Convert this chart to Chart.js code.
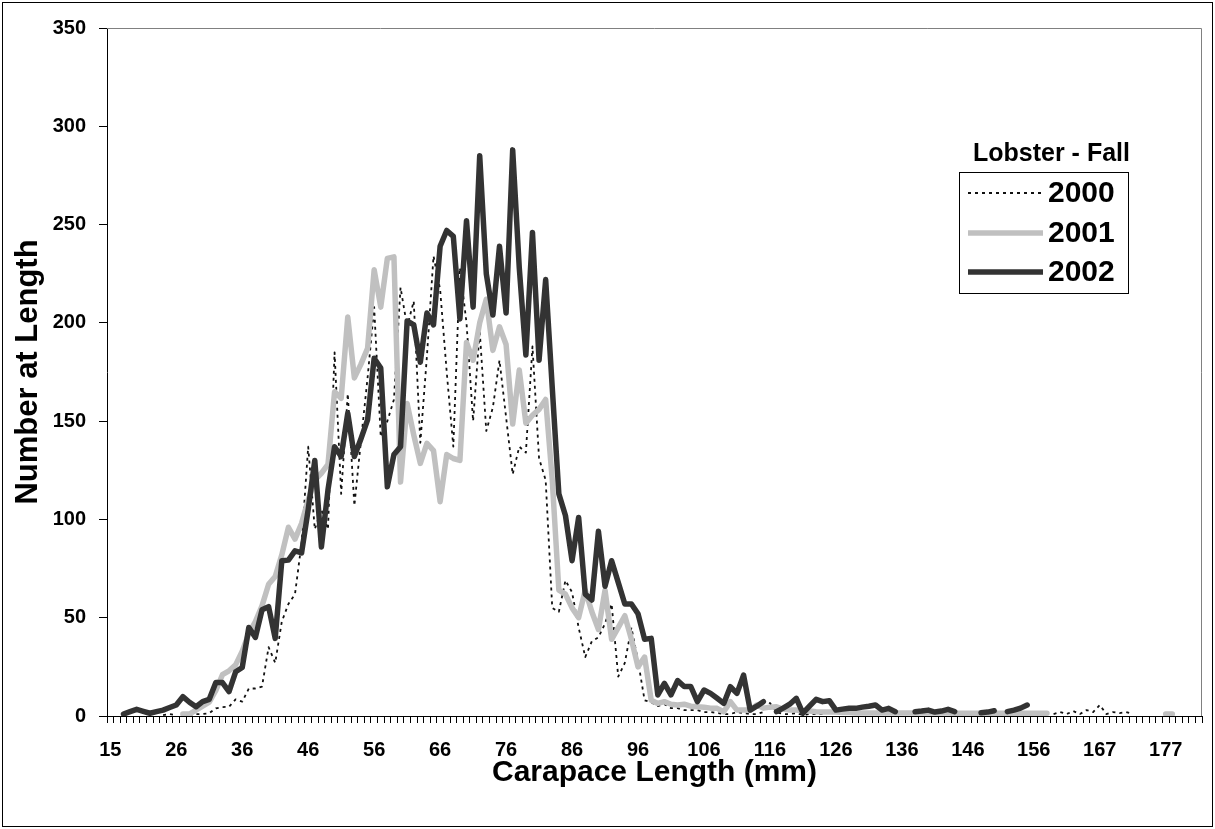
<!DOCTYPE html>
<html lang="en">
<head>
<meta charset="UTF-8">
<title>Lobster - Fall</title>
<script src="https://cdn.jsdelivr.net/npm/chart.js@4.4.0/dist/chart.umd.min.js"></script>
<style>
    html, body { margin: 0; padding: 0; background: #fff; }
    #wrap { width: 1215px; height: 829px; }
</style>
</head>
<body>
<div id="wrap"><canvas id="lengthChart" width="1215" height="829"></canvas></div>
<script>
    // Carapace length classes (mm); 16 and 164 have no row
    const lengths = [
        15, 17, 18, 19, 20, 21, 22, 23, 24, 25,
        26, 27, 28, 29, 30, 31, 32, 33, 34, 35,
        36, 37, 38, 39, 40, 41, 42, 43, 44, 45,
        46, 47, 48, 49, 50, 51, 52, 53, 54, 55,
        56, 57, 58, 59, 60, 61, 62, 63, 64, 65,
        66, 67, 68, 69, 70, 71, 72, 73, 74, 75,
        76, 77, 78, 79, 80, 81, 82, 83, 84, 85,
        86, 87, 88, 89, 90, 91, 92, 93, 94, 95,
        96, 97, 98, 99, 100, 101, 102, 103, 104, 105,
        106, 107, 108, 109, 110, 111, 112, 113, 114, 115,
        116, 117, 118, 119, 120, 121, 122, 123, 124, 125,
        126, 127, 128, 129, 130, 131, 132, 133, 134, 135,
        136, 137, 138, 139, 140, 141, 142, 143, 144, 145,
        146, 147, 148, 149, 150, 151, 152, 153, 154, 155,
        156, 157, 158, 159, 160, 161, 162, 163, 165, 166,
        167, 168, 169, 170, 171, 172, 173, 174, 175, 176,
        177, 178, 179, 180, 181, 182
    ];

    const fall2000 = [
        null, null, null, null, null, null, null, null, 0.5, 1,
        0.5, null, 0.5, 1, 1, 1.4, 3.9, 4.5, 4.7, 8.5,
        7.3, 14, 14, 15, 35, 27, 48, 57, 62, 88,
        137, 95, 105, 95, 185, 113, 164, 107, 140, 172,
        208, 142, 150, 161, 218, 198, 211, 139, 183, 234,
        217, 175, 137, 228, 200, 150, 196, 145, 157, 181,
        152, 123, 137, 134, 188, 131, 120, 55, 53, 69,
        63, 45, 30, 38, 40, 47, 57, 20, 27, 45,
        28, 8, 7, 5, 6, 4, 4, 3, 3, 3,
        2, 2, 1.5, 1, 1, 2, 1.5, 1, 1, 2,
        6.6, 2, 1, 1, 1.5, 0.5, 1, 1, 1, null,
        null, 1, 1, null, 1, 1, null, null, 1, 2,
        1.5, null, 1, 1, null, null, 1, 1, null, null,
        1, 1, null, null, 1, 1, null, null, 1, 1,
        null, null, null, 1, 2, 1, 2.5, 1, 3, 2,
        5.6, 1, 2, 1.5, 2, 1, null, null, null, null,
        null, null, null, null, null, null
    ];

    const fall2001 = [
        null, null, null, null, null, null, null, null, null, null,
        null, 1, 1, 3, 5, 7, 13, 21, 23, 26,
        33, 42, 48, 56, 67, 71, 82, 96, 90, 98,
        110, 120, 123.5, 128, 165, 161.6, 203, 172, 179, 187,
        227, 208, 232.8, 233.6, 119, 159, 143, 128.5, 138.7, 135,
        109, 133, 131, 130, 190, 181, 200, 212, 186, 198,
        189, 148.5, 176, 149, 153, 156, 161, 120, 64, 62,
        55, 50, 64, 53, 44, 64, 39, 45, 51, 39,
        25, 30, 8, 6.4, 7.3, 6, 5.6, 6, 5, 4.7,
        4.5, 4, 3.9, 2.2, 7.3, 3, 3, 3, 5.6, 4,
        4.5, 4.7, 3.5, 3, 3, 2.5, 2.5, 2.2, 2, 2,
        2, 1.8, 1.8, 1.5, 1.5, 1.5, 1.5, 1.5, 1.5, 1.5,
        1.5, 1.5, 1.5, 1.5, 1.5, 1.5, 1.5, 1.5, 1.4, 1.4,
        1.4, 1.4, 1.4, 1.4, 1.4, 1.4, 1.4, 1.4, 1.4, 1.4,
        1.4, 1.4, 1.4, null, null, null, null, null, null, null,
        null, null, null, null, null, null, null, null, null, null,
        1, 1, null, null, null, null
    ];

    const fall2002 = [
        null, null, 1, 2.2, 3.4, 2.4, 1.4, 2.2, 3, 4.3,
        5.6, 9.8, 7, 4.7, 7.3, 8.5, 17, 17, 12.4, 22.5,
        24.7, 45, 40, 54, 55.6, 39.5, 79, 79.3, 84, 83,
        105, 130, 86, 115, 137, 132, 154, 132, 141, 150.6,
        182, 177, 116.6, 133, 137, 201, 199, 180, 205, 199,
        239, 247, 244, 202, 252, 208, 285, 225, 204, 239,
        205, 288, 228, 183.6, 246, 181, 222, 167, 113, 102,
        79, 101, 62, 59, 94, 66, 79, 68, 57, 57,
        52, 39, 39.5, 10.7, 16.6, 10.7, 18, 15, 15, 7.3,
        13.2, 11.5, 9, 6.4, 14.9, 11.5, 20.8, 3, 5, 7.3,
        null, 2.2, 4, 6, 9, 1.4, 5, 8.5, 7.3, 7.8,
        3, 3.5, 3.9, 3.9, 4.5, 5, 5.6, 3, 3.9, 2.2,
        null, null, 2.2, 2.5, 3, 2, 2.5, 3.4, 2.2, null,
        null, null, 1.7, 2, 2.7, null, 2.2, 3, 4, 5.6,
        null, null, null, null, null, null, null, null, null, null,
        null, null, null, null, null, null, null, null, null, null,
        null, null, null, null, null, null
    ];

    const yTicks = [0, 50, 100, 150, 200, 250, 300, 350];

    const FONT = "'Liberation Sans', Arial, sans-serif";

    // frame, plot outline, title and the boxed legend
    const decorations = {
        id: 'decorations',
        afterDraw(chart) {
            const ctx = chart.ctx;
            const area = chart.chartArea;
            ctx.save();

            ctx.strokeStyle = '#808080';
            ctx.lineWidth = 1;
            ctx.beginPath();
            ctx.moveTo(area.left, area.top + 0.5);
            ctx.lineTo(area.right - 0.5, area.top + 0.5);
            ctx.lineTo(area.right - 0.5, area.bottom);
            ctx.stroke();

            ctx.strokeStyle = '#000';
            ctx.strokeRect(2.5, 2.5, chart.width - 5, chart.height - 5);

            ctx.fillStyle = '#000';
            ctx.textBaseline = 'middle';
            ctx.textAlign = 'left';
            ctx.font = 'bold 25px ' + FONT;
            ctx.fillText('Lobster - Fall', 973, 154);

            ctx.strokeStyle = '#000';
            ctx.lineWidth = 1;
            ctx.strokeRect(959.5, 172.5, 169, 121);

            const rows = [193, 233, 272];
            chart.data.datasets.forEach((ds, i) => {
                const y = rows[i];
                ctx.save();
                ctx.strokeStyle = ds.borderColor;
                ctx.lineWidth = ds.borderWidth;
                ctx.setLineDash(ds.borderDash || []);
                ctx.beginPath();
                ctx.moveTo(968, y);
                ctx.lineTo(1043, y);
                ctx.stroke();
                ctx.restore();
                ctx.fillStyle = '#000';
                ctx.font = 'bold 30px ' + FONT;
                ctx.fillText(ds.label, 1048, y + 1);
            });
            ctx.restore();
        }
    };

    const lineStyle = {
        pointRadius: 0,
        pointHoverRadius: 0,
        tension: 0,
        spanGaps: false,
        borderJoinStyle: 'round',
        borderCapStyle: 'round',
        fill: false
    };

    new Chart(document.getElementById('lengthChart'), {
        type: 'line',
        data: {
            labels: lengths,
            datasets: [
                Object.assign({
                    label: '2000',
                    data: fall2000,
                    borderColor: '#111111',
                    borderWidth: 1.8,
                    borderDash: [3, 4],
                    order: 3
                }, lineStyle, { borderCapStyle: 'butt' }),
                Object.assign({
                    label: '2001',
                    data: fall2001,
                    borderColor: '#c0c0c0',
                    borderWidth: 5.5,
                    order: 2
                }, lineStyle),
                Object.assign({
                    label: '2002',
                    data: fall2002,
                    borderColor: '#333333',
                    borderWidth: 5.5,
                    order: 1
                }, lineStyle)
            ]
        },
        options: {
            responsive: false,
            animation: false,
            devicePixelRatio: 1,
            layout: { padding: { top: 28, right: 13, left: 0, bottom: 0 } },
            plugins: {
                legend: { display: false },
                title: { display: false },
                tooltip: { enabled: false }
            },
            scales: {
                x: {
                    type: 'category',
                    offset: true,
                    grid: {
                        offset: true,
                        drawOnChartArea: false,
                        drawTicks: true,
                        tickLength: 7,
                        color: '#000'
                    },
                    border: { color: '#000', width: 1 },
                    ticks: {
                        autoSkip: false,
                        maxRotation: 0,
                        minRotation: 0,
                        padding: 15,
                        color: '#000',
                        font: { family: FONT, weight: 'bold', size: 20 },
                        callback: (v, i) => (i % 10 === 0 ? String(lengths[i]) : '')
                    },
                    title: {
                        display: true,
                        text: 'Carapace Length (mm)',
                        color: '#000',
                        font: { family: FONT, weight: 'bold', size: 30 },
                        padding: { top: 0, bottom: 38 }
                    },
                    afterFit: (scale) => { scale.height = 829 - 716; }
                },
                y: {
                    min: 0,
                    max: 350,
                    afterBuildTicks: (scale) => { scale.ticks = yTicks.map(v => ({ value: v })); },
                    grid: {
                        drawOnChartArea: false,
                        drawTicks: true,
                        tickLength: 8,
                        color: '#000'
                    },
                    border: { color: '#000', width: 1 },
                    ticks: {
                        padding: 13,
                        color: '#000',
                        font: { family: FONT, weight: 'bold', size: 20 }
                    },
                    title: {
                        display: true,
                        text: 'Number at Length',
                        color: '#000',
                        font: { family: FONT, weight: 'bold', size: 31 },
                        padding: { top: 10, bottom: 0 }
                    },
                    afterFit: (scale) => { scale.width = 107; }
                }
            }
        },
        plugins: [decorations]
    });
</script>
</body>
</html>
